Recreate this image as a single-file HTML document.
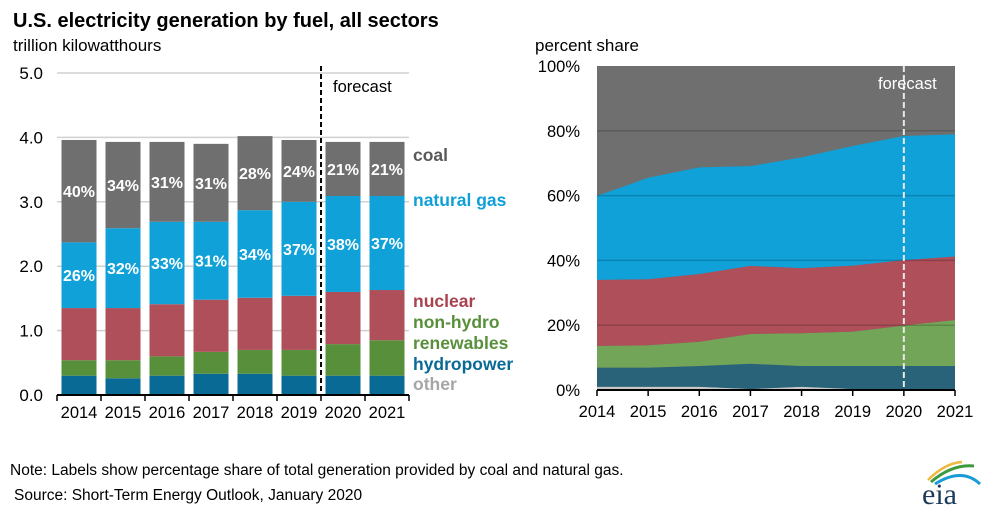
<!DOCTYPE html>
<html><head><meta charset="utf-8"><style>
html,body{margin:0;padding:0;background:#fff;}
svg{display:block;font-family:"Liberation Sans",Arial,sans-serif;}
</style></head><body>
<svg id="c" width="986" height="510" viewBox="0 0 986 510" xmlns="http://www.w3.org/2000/svg">
<text x="13" y="27" font-size="20" font-weight="bold" fill="#000">U.S. electricity generation by fuel, all sectors</text>
<text x="13" y="51" font-size="17" fill="#000">trillion kilowatthours</text>
<text x="535" y="51" font-size="17" fill="#000">percent share</text>
<g id="left"></g>
<g id="right"></g>
<text x="10" y="475" font-size="15.5" fill="#000">Note: Labels show percentage share of total generation provided by coal and natural gas.</text>
<text x="14" y="500" font-size="15.5" fill="#000">Source: Short-Term Energy Outlook, January 2020</text>
<g>
<path d="M928 480 Q945 463 962 462" stroke="#f0b840" stroke-width="2.5" fill="none"/>
<path d="M931 482 Q952 464 974 466" stroke="#3d9a3d" stroke-width="3" fill="none"/>
<path d="M935 484 Q962 467 980 484" stroke="#1a9ad6" stroke-width="3" fill="none"/>
<text x="922" y="504" font-family="Liberation Serif,serif" font-size="30" fill="#1b3a5c">eia</text>
</g>
</svg>
<script>
const years=["2014","2015","2016","2017","2018","2019","2020","2021"];
const hydro=[0.30,0.26,0.30,0.33,0.33,0.30,0.30,0.30];
const renew=[0.24,0.28,0.30,0.34,0.37,0.40,0.49,0.55];
const nuclear=[0.81,0.81,0.81,0.81,0.81,0.84,0.81,0.78];
const gas=[1.02,1.24,1.28,1.21,1.36,1.46,1.49,1.46];
const coal=[1.59,1.34,1.24,1.21,1.15,0.96,0.84,0.84];
const coalLabels=["40%","34%","31%","31%","28%","24%","21%","21%"];
const gasLabels=["26%","32%","33%","31%","34%","37%","38%","37%"];
const leftTicks=[0,1,2,3,4,5];
// right chart: percent shares per segment
const shOther=[1.0,1.0,1.0,0.3,1.0,0.3,0.3,0.3];
const shHydro=[5.9,5.9,6.4,7.8,6.4,7.1,7.1,7.1];
const shRenew=[6.7,6.9,7.5,9.2,10.1,10.6,12.5,14.2];
const shNuclear=[20.4,20.4,20.9,21.0,20.1,20.4,20.2,19.6];
const shGas=[25.9,31.3,32.9,30.8,34.2,36.9,38.3,37.7];
const rightTicks=[0,20,40,60,80,100];

const NS="http://www.w3.org/2000/svg";
function mk(tag,attrs,parent,txt){const e=document.createElementNS(NS,tag);for(const k in attrs)e.setAttribute(k,attrs[k]);if(txt!==undefined)e.textContent=txt;parent.appendChild(e);return e;}

// LEFT
const L=document.getElementById('left');
const x0=57,band=44,bw=35,yB=395,yPer=64.4;
const ly=v=>yB-v*yPer;
const lx=i=>x0+i*band;
leftTicks.forEach(t=>{
  if(t>0){const g=mk('line',{x1:x0,x2:409,y1:ly(t),y2:ly(t),stroke:'#d0d0d0','stroke-width':1.5},L);
  
  }
  const tl=mk('text',{x:43,y:ly(t)+6,'font-size':17,'text-anchor':'end',fill:'#000'},L,t.toFixed(1));
  
  
});
const segs=[[hydro,'#0a6a96','hydro'],[renew,'#578f3a','renewables'],[nuclear,'#ae4f5a','nuclear'],[gas,'#0fa1d8','gas'],[coal,'#6f6f6f','coal']];
years.forEach((yr,i)=>{
  let base=0;
  const bx=lx(i)+(band-bw)/2;
  segs.forEach(([arr,col,nm])=>{
    const v=arr[i];
    const r=mk('rect',{x:bx,y:ly(base+v),width:bw,height:v*yPer,fill:col},L);
    
    
    if(nm==='coal'||nm==='gas'){
      const lab=(nm==='coal'?coalLabels:gasLabels)[i];
      const t=mk('text',{x:bx+bw/2,y:ly(base+v/2)+6,'font-size':16,'font-weight':'bold','text-anchor':'middle',fill:'#fff'},L,lab);
      
      
    }
    base+=v;
  });
  const yl=mk('text',{x:lx(i)+band/2,y:418,'font-size':16.5,'text-anchor':'middle',fill:'#000'},L,yr);
  
  
});
const ax=mk('line',{x1:x0,x2:409,y1:yB,y2:yB,stroke:'#000','stroke-width':2},L);


for(let i=0;i<=years.length;i++){
  const tk=mk('line',{x1:lx(i),x2:lx(i),y1:yB,y2:yB+6,stroke:'#000','stroke-width':1.5},L);
  
  
}
const fl=mk('line',{x1:lx(6),x2:lx(6),y1:66,y2:yB,stroke:'#000','stroke-width':2,'stroke-dasharray':'5,3'},L);


const ft=mk('text',{x:333,y:92,'font-size':16.5,fill:'#000'},L,'forecast');


const legend=[['coal','#595959',161],['natural gas','#109fd6',206],['nuclear','#a8424e',307],['non-hydro','#578f3a',328],['renewables','#578f3a',349],['hydropower','#0a6a96',370],['other','#a6a6a6',390]];
legend.forEach(([t,c,y])=>{
  const e=mk('text',{x:413,y:y,'font-size':17.5,'font-weight':'bold',fill:c},L,t);
  
  
});

// RIGHT
const R=document.getElementById('right');
const rx0=597,rx1=955,ry0=390,ry1=66;
const rx=i=>rx0+i*(rx1-rx0)/(years.length-1);
const ry=p=>ry0-p*(ry0-ry1)/100;
const bg=mk('rect',{x:rx0,y:ry1,width:rx1-rx0,height:ry0-ry1,fill:'#6f6f6f'},R);


const rseg=[[shOther,'#c8c8c8','other'],[shHydro,'#28637a','hydro'],[shRenew,'#72a558','renewables'],[shNuclear,'#ae4f5a','nuclear'],[shGas,'#0fa1d8','gas']];
const cum=years.map(()=>0);
rseg.forEach(([arr,col,nm])=>{
  const lo=cum.slice();
  arr.forEach((v,i)=>cum[i]+=v);
  let d='';
  years.forEach((_,i)=>{d+=(i?'L':'M')+rx(i)+' '+ry(cum[i]);});
  for(let i=years.length-1;i>=0;i--)d+='L'+rx(i)+' '+ry(lo[i]);
  const p=mk('path',{d:d+'Z',fill:col},R);
  
  
});
rightTicks.forEach(t=>{
  if(t>0&&t<100){const g=mk('line',{x1:rx0,x2:rx1,y1:ry(t),y2:ry(t),stroke:'rgba(0,0,0,0.18)','stroke-width':1.5},R);
  
  }
  const tl=mk('text',{x:580,y:ry(t)+6,'font-size':16.5,'text-anchor':'end',fill:'#000'},R,t+'%');
  
  
});
const rax=mk('line',{x1:rx0,x2:rx1,y1:ry0,y2:ry0,stroke:'#000','stroke-width':2},R);


years.forEach((yr,i)=>{
  const tk=mk('line',{x1:rx(i),x2:rx(i),y1:ry0,y2:ry0+6,stroke:'#000','stroke-width':1.5},R);
  
  
  const yl=mk('text',{x:rx(i),y:417,'font-size':16.5,'text-anchor':'middle',fill:'#000'},R,yr);
  
  
});
const rfl=mk('line',{x1:rx(6),x2:rx(6),y1:ry1,y2:ry0,stroke:'#e8e8e8','stroke-width':2,'stroke-dasharray':'6,3'},R);


const rft=mk('text',{x:878,y:89,'font-size':16.5,fill:'#fff'},R,'forecast');


</script>
</body></html>
